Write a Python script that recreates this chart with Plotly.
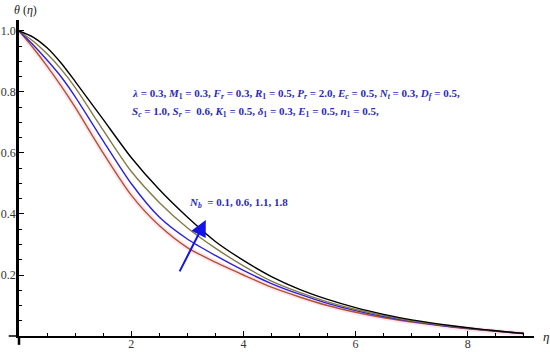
import plotly.graph_objects as go

# ---- data ----
eta = [0, 0.25, 0.5, 0.75, 1.0, 1.5, 2.0, 2.5, 3.0, 3.5, 4.0, 4.5, 5.0, 5.5, 6.0, 6.5, 7.0, 7.5, 8.0, 8.5, 9.0]
theta_nb_01 = [1.0, 0.945, 0.885, 0.82, 0.75, 0.6, 0.462, 0.362, 0.29, 0.242, 0.2, 0.16, 0.128, 0.1, 0.078, 0.06, 0.046, 0.034, 0.024, 0.015, 0.008]
theta_nb_06 = [1.0, 0.955, 0.905, 0.85, 0.785, 0.64, 0.5, 0.39, 0.318, 0.264, 0.215, 0.172, 0.137, 0.107, 0.083, 0.064, 0.048, 0.035, 0.025, 0.016, 0.008]
theta_nb_11 = [1.0, 0.967, 0.925, 0.875, 0.815, 0.675, 0.54, 0.438, 0.355, 0.288, 0.23, 0.18, 0.143, 0.112, 0.087, 0.067, 0.05, 0.037, 0.026, 0.017, 0.008]
theta_nb_18 = [1.0, 0.98, 0.945, 0.895, 0.835, 0.71, 0.585, 0.48, 0.39, 0.31, 0.248, 0.195, 0.153, 0.12, 0.093, 0.071, 0.053, 0.039, 0.027, 0.017, 0.008]

series_names = ["N_b = 0.1", "N_b = 0.6", "N_b = 1.1", "N_b = 1.8"]
series_values = [theta_nb_01, theta_nb_06, theta_nb_11, theta_nb_18]
series_colors = ["#b0542c", "#2a22d8", "#857a45", "#000000"]

x_tick_vals = [2, 4, 6, 8]
y_tick_vals = [0.2, 0.4, 0.6, 0.8, 1.0]
y_tick_text = ["0.2", "0.4", "0.6", "0.8", "1.0"]

X_MAX = 9.18
Y_MAX = 1.036

SERIF = "Liberation Serif, Times New Roman, serif"
TXT = "#2b2bb8"

fig = go.Figure()

# faint pink halo seen along the lowest curve
fig.add_trace(go.Scatter(x=eta, y=theta_nb_01, mode="lines",
                         line=dict(color="rgba(255,170,210,0.3)", width=5, shape="spline", smoothing=0.7),
                         hoverinfo="skip", showlegend=False))

for name, vals, col in zip(series_names, series_values, series_colors):
    fig.add_trace(go.Scatter(x=eta, y=vals, mode="lines", name=name,
                             line=dict(color=col, width=1.4, shape="spline", smoothing=0.7),
                             showlegend=False))

def px(xv):
    return xv / X_MAX

def py(yv):
    return yv / Y_MAX

annotations = [
    dict(text="<b><i>λ</i> = 0.3, <i>M</i><sub>1</sub> = 0.3, <i>F<sub>r</sub></i> = 0.3, <i>R</i><sub>1</sub> = 0.5, "
              "<i>P<sub>r</sub></i> = 2.0, <i>E<sub>c</sub></i> = 0.5, <i>N<sub>t</sub></i> = 0.3, <i>D<sub>f</sub></i> = 0.5,</b>",
         x=px(1.98), y=py(0.795), xref="paper", yref="paper", xanchor="left", yanchor="middle",
         showarrow=False, font=dict(family=SERIF, size=11, color=TXT)),
    dict(text="<b><i>S<sub>c</sub></i> = 1.0, <i>S<sub>r</sub></i> =  0.6, <i>K</i><sub>1</sub> = 0.5, "
              "<i>δ</i><sub>1</sub> = 0.3, <i>E</i><sub>1</sub> = 0.5, <i>n</i><sub>1</sub> = 0.5,</b>",
         x=px(1.98), y=py(0.735), xref="paper", yref="paper", xanchor="left", yanchor="middle",
         showarrow=False, font=dict(family=SERIF, size=11, color=TXT)),
    dict(text="<b><i>N<sub>b</sub></i>  = 0.1, 0.6, 1.1, 1.8</b>",
         x=px(3.0), y=py(0.437), xref="paper", yref="paper", xanchor="left", yanchor="middle",
         showarrow=False, font=dict(family=SERIF, size=11, color=TXT)),
    # arrow showing increasing N_b
    dict(x=3.33, y=0.38, ax=2.85, ay=0.207, xref="x", yref="y", axref="x", ayref="y",
         text="", showarrow=True, arrowhead=2, arrowsize=1.6, arrowwidth=2, arrowcolor="#1414e6"),
    # axis labels
    dict(text="<i>θ</i> (<i>η</i>)", x=0.012, y=1.0, xref="paper", yref="paper",
         xanchor="center", yanchor="bottom", yshift=1, showarrow=False,
         font=dict(family=SERIF, size=12, color="#222")),
    dict(text="<i>η</i>", x=1.0, y=0.0, xref="paper", yref="paper",
         xanchor="left", yanchor="middle", xshift=7, showarrow=False,
         font=dict(family=SERIF, size=13, color="#222")),
]

shapes = [
    # small extensions of the axis lines past the origin
    dict(type="line", xref="paper", yref="paper", x0=-0.02, x1=0, y0=0, y1=0,
         line=dict(color="black", width=1.5)),
    dict(type="line", xref="paper", yref="paper", x0=0, x1=0, y0=-0.028, y1=0,
         line=dict(color="black", width=2.5)),
]

fig.update_layout(
    width=550, height=352,
    margin=dict(l=19, r=16, t=20, b=16, autoexpand=False),
    paper_bgcolor="white", plot_bgcolor="white",
    showlegend=False,
    annotations=annotations,
    shapes=shapes,
    xaxis=dict(range=[0, X_MAX], showgrid=False, zeroline=False, automargin=False,
               showline=True, linecolor="black", linewidth=1.5,
               ticks="inside", ticklen=5, tickwidth=1, tickcolor="black",
               tickvals=x_tick_vals, ticktext=[str(v) for v in x_tick_vals],
               ticklabelstandoff=-4,
               minor=dict(dtick=0.5, tick0=0, ticks="inside", ticklen=3, tickcolor="black"),
               tickfont=dict(family=SERIF, size=12, color="#333")),
    yaxis=dict(range=[0, Y_MAX], showgrid=False, zeroline=False, automargin=False,
               showline=True, linecolor="black", linewidth=2.5,
               ticks="inside", ticklen=5, tickwidth=1, tickcolor="black",
               tickvals=y_tick_vals, ticktext=y_tick_text,
               ticklabelstandoff=-2,
               minor=dict(dtick=0.05, tick0=0, ticks="inside", ticklen=3, tickcolor="black"),
               tickfont=dict(family=SERIF, size=12, color="#333")),
)

fig.write_html("out.html", config={"displayModeBar": False},
               post_script="document.body.style.margin='0';document.body.style.padding='0';")
